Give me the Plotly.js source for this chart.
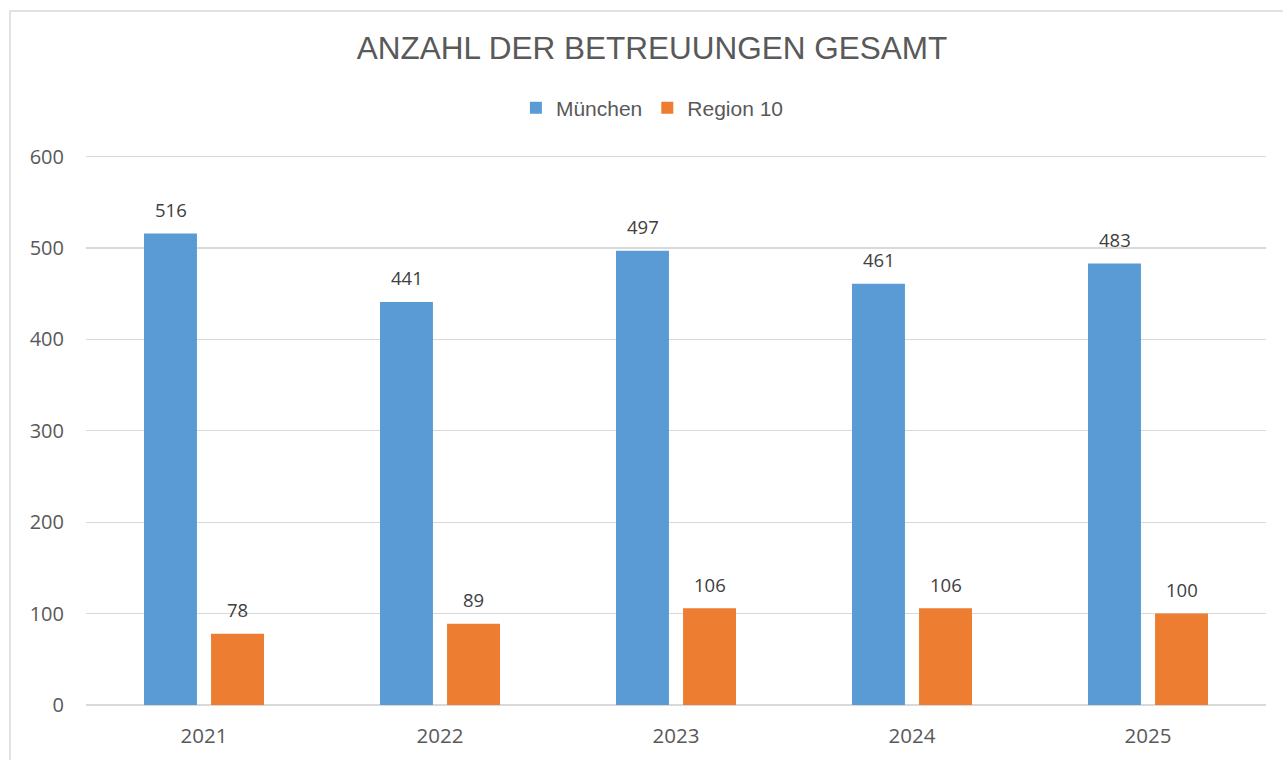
<!DOCTYPE html>
<html><head><meta charset="utf-8">
<script src="https://cdn.plot.ly/plotly-3.0.1.min.js"></script>
<style>html,body{margin:0;padding:0;background:#fff}#chart{width:1283px;height:760px}</style>
</head><body><div id="chart"></div>
<script>
const years = ['2021','2022','2023','2024','2025'];
const muenchen = [516, 441, 497, 461, 483];
const region10 = [78, 89, 106, 106, 100];
const seriesNames = ['München', 'Region 10'];
const yTicks = [0, 100, 200, 300, 400, 500, 600];

const blue = '#5B9BD5', orange = '#ED7D31';
const traces = [
  {type:'bar', x: years, y: muenchen, name: seriesNames[0], marker:{color: blue}, hoverinfo:'x+y'},
  {type:'bar', x: years, y: region10, name: seriesNames[1], marker:{color: orange}, hoverinfo:'x+y'}
];
const annotations = [];
years.forEach((yr, i) => {
  annotations.push({x: i, y: muenchen[i], xref:'x', yref:'y', text: String(muenchen[i]), showarrow:false,
    xshift:-33.5, yshift:24, font:{family:'Open Sans', size:18.5, color:'#404040'}});
  annotations.push({x: i, y: region10[i], xref:'x', yref:'y', text: String(region10[i]), showarrow:false,
    xshift:33.5, yshift:24, font:{family:'Open Sans', size:18.5, color:'#404040'}});
});
const plotH = 552;
const layout = {
  width:1283, height:760,
  margin:{l:86, r:17, t:760-55-plotH, b:55},
  paper_bgcolor:'#fff', plot_bgcolor:'#fff',
  title:{text:'ANZAHL DER BETREUUNGEN GESAMT', x:652/1283, xref:'container', y:1-48/760, yref:'container', yanchor:'middle',
    font:{family:'Liberation Sans, Arial', size:31.5, color:'#595959'}},
  barmode:'group', bargap:0.432, bargroupgap:0.21,
  showlegend:true,
  legend:{orientation:'h', x:0.48, xanchor:'center', y:(705-108)/plotH, yanchor:'middle',
    font:{family:'Liberation Sans, Arial', size:21, color:'#595959'}, traceorder:'normal'},
  xaxis:{type:'category', range:[-0.5, 4.5], autorange:false, showgrid:false, showline:false, zeroline:false, ticks:'',
    tickfont:{family:'Open Sans', size:20.5, color:'#595959'}, ticklabelstandoff:16},
  yaxis:{range:[0,604], autorange:false, tickvals:yTicks, showgrid:true, gridcolor:'#d9d9d9', gridwidth:1.3,
    zeroline:true, zerolinecolor:'#d9d9d9', zerolinewidth:1.5, showline:false, ticks:'',
    tickfont:{family:'Open Sans', size:20, color:'#595959'}, ticklabelstandoff:21},
  annotations: annotations,
  shapes:[{type:'rect', xref:'paper', yref:'paper', x0:(10-86)/1180, x1:1.1, y0:-0.3, y1:(705-11)/plotH,
    line:{color:'#d9d9d9', width:1.5}, fillcolor:'rgba(0,0,0,0)', layer:'below'}]
};
Plotly.newPlot('chart', traces, layout, {staticPlot:true, displayModeBar:false});
</script></body></html>
